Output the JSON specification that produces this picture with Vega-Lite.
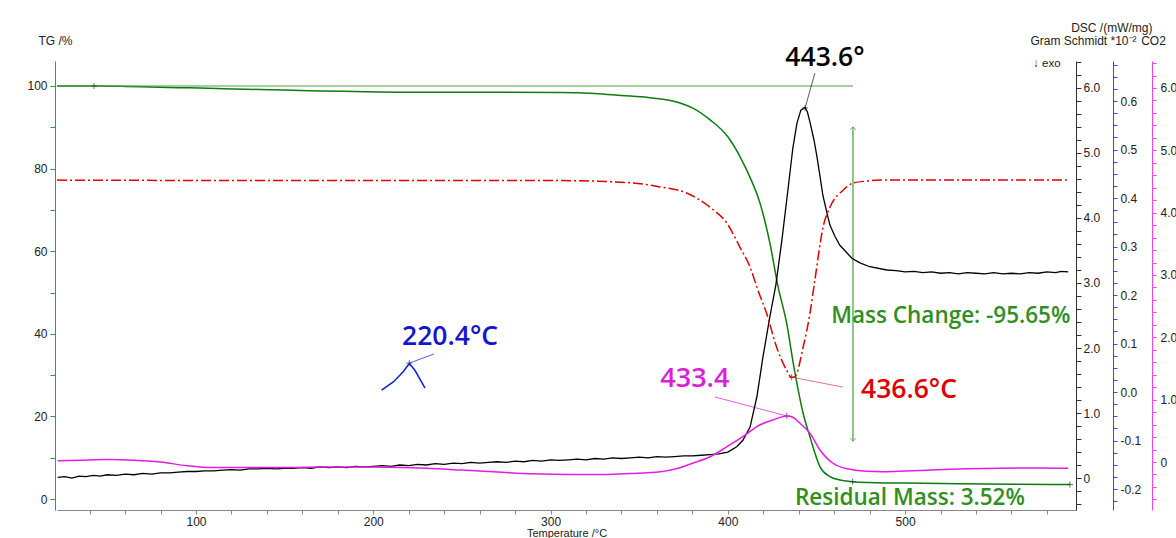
{
  "$schema": "https://vega.github.io/schema/vega-lite/v6.json",
  "width": 1019,
  "height": 449,
  "autosize": {"type": "none"},
  "padding": {"left": 57, "top": 61, "right": 100, "bottom": 28},
  "background": "white",
  "config": {
    "view": {"stroke": null},
    "font": "Liberation Sans",
    "axis": {"grid": false, "labelFont": "Liberation Sans", "labelFontSize": 12, "labelColor": "#222", "titleFont": "Liberation Sans", "titleFontSize": 12, "titleFontWeight": "normal", "titleColor": "#222"}
  },
  "datasets": {
    "tg": [{"T":21.6,"v":100},{"T":42.5,"v":100},{"T":60,"v":99.9},{"T":74,"v":99.76},{"T":90,"v":99.6},{"T":102,"v":99.5},{"T":120,"v":99.3},{"T":136,"v":99.15},{"T":155,"v":98.95},{"T":170,"v":98.8},{"T":190,"v":98.65},{"T":215,"v":98.5},{"T":260,"v":98.5},{"T":305,"v":98.45},{"T":325,"v":98.2},{"T":340,"v":97.7},{"T":355,"v":97.2},{"T":366,"v":96.6},{"T":373,"v":95.9},{"T":380,"v":94.7},{"T":390,"v":91.8},{"T":400,"v":87.7},{"T":407,"v":82.8},{"T":412.4,"v":78.0},{"T":418.1,"v":71.7},{"T":423.7,"v":62.0},{"T":428.3,"v":51.5},{"T":433.2,"v":42.5},{"T":436.9,"v":32.9},{"T":442.5,"v":20.7},{"T":446.3,"v":15.1},{"T":452,"v":7.8},{"T":457.6,"v":5.4},{"T":463.2,"v":4.6},{"T":470.4,"v":4.2},{"T":480,"v":4.0},{"T":500,"v":3.85},{"T":530,"v":3.7},{"T":560,"v":3.6},{"T":593,"v":3.5}],
    "dsc": [{"T":22,"v":0.01},{"T":26,"v":0.02},{"T":30,"v":0.0},{"T":34,"v":0.03},{"T":38,"v":0.02},{"T":42,"v":0.04},{"T":46,"v":0.03},{"T":50,"v":0.05},{"T":55,"v":0.04},{"T":60,"v":0.06},{"T":65,"v":0.05},{"T":70,"v":0.07},{"T":75,"v":0.06},{"T":80,"v":0.08},{"T":85,"v":0.08},{"T":90,"v":0.09},{"T":95,"v":0.1},{"T":100,"v":0.1},{"T":105,"v":0.11},{"T":110,"v":0.11},{"T":115,"v":0.12},{"T":120,"v":0.13},{"T":125,"v":0.12},{"T":130,"v":0.14},{"T":135,"v":0.14},{"T":140,"v":0.15},{"T":145,"v":0.14},{"T":150,"v":0.15},{"T":155,"v":0.15},{"T":160,"v":0.16},{"T":165,"v":0.15},{"T":170,"v":0.17},{"T":175,"v":0.16},{"T":180,"v":0.17},{"T":185,"v":0.16},{"T":190,"v":0.18},{"T":195,"v":0.17},{"T":200,"v":0.18},{"T":205,"v":0.19},{"T":210,"v":0.18},{"T":215,"v":0.2},{"T":220,"v":0.19},{"T":225,"v":0.21},{"T":230,"v":0.2},{"T":235,"v":0.22},{"T":240,"v":0.21},{"T":245,"v":0.23},{"T":250,"v":0.22},{"T":255,"v":0.24},{"T":260,"v":0.23},{"T":265,"v":0.24},{"T":270,"v":0.25},{"T":275,"v":0.24},{"T":280,"v":0.26},{"T":285,"v":0.25},{"T":290,"v":0.27},{"T":295,"v":0.26},{"T":300,"v":0.28},{"T":305,"v":0.27},{"T":310,"v":0.28},{"T":315,"v":0.29},{"T":320,"v":0.28},{"T":325,"v":0.3},{"T":330,"v":0.29},{"T":335,"v":0.31},{"T":340,"v":0.3},{"T":345,"v":0.31},{"T":350,"v":0.32},{"T":355,"v":0.31},{"T":360,"v":0.33},{"T":365,"v":0.32},{"T":370,"v":0.33},{"T":375,"v":0.34},{"T":380,"v":0.34},{"T":385,"v":0.35},{"T":390,"v":0.36},{"T":395,"v":0.37},{"T":400,"v":0.4},{"T":405,"v":0.48},{"T":408.5,"v":0.58},{"T":412.5,"v":0.78},{"T":416.4,"v":1.25},{"T":419.8,"v":1.86},{"T":423.7,"v":2.48},{"T":427.1,"v":2.97},{"T":430.5,"v":3.66},{"T":433.9,"v":4.43},{"T":436.7,"v":5.08},{"T":439.0,"v":5.46},{"T":441.2,"v":5.66},{"T":443.6,"v":5.7},{"T":444.9,"v":5.63},{"T":446.3,"v":5.48},{"T":448.6,"v":5.2},{"T":450.3,"v":4.94},{"T":451.9,"v":4.66},{"T":453.6,"v":4.35},{"T":455.9,"v":4.08},{"T":457.6,"v":3.89},{"T":460.4,"v":3.72},{"T":463.2,"v":3.58},{"T":466.6,"v":3.48},{"T":470.0,"v":3.38},{"T":474.5,"v":3.31},{"T":480.1,"v":3.25},{"T":489.7,"v":3.2},{"T":495,"v":3.19},{"T":500,"v":3.17},{"T":505,"v":3.18},{"T":510,"v":3.16},{"T":515,"v":3.17},{"T":520,"v":3.15},{"T":525,"v":3.16},{"T":530,"v":3.14},{"T":535,"v":3.16},{"T":540,"v":3.15},{"T":545,"v":3.14},{"T":550,"v":3.16},{"T":555,"v":3.14},{"T":560,"v":3.15},{"T":565,"v":3.14},{"T":570,"v":3.16},{"T":575,"v":3.15},{"T":580,"v":3.17},{"T":585,"v":3.16},{"T":588,"v":3.18},{"T":592,"v":3.17}],
    "gs": [{"T":21.6,"v":0.437},{"T":158.7,"v":0.436},{"T":305.3,"v":0.436},{"T":343,"v":0.432},{"T":361.7,"v":0.423},{"T":377,"v":0.41},{"T":389.9,"v":0.381},{"T":399.5,"v":0.348},{"T":406.8,"v":0.299},{"T":412.5,"v":0.258},{"T":417,"v":0.21},{"T":421.9,"v":0.162},{"T":427.5,"v":0.093},{"T":433.2,"v":0.045},{"T":436.0,"v":0.03},{"T":437.9,"v":0.032},{"T":442.5,"v":0.093},{"T":446.3,"v":0.162},{"T":449.1,"v":0.231},{"T":453.8,"v":0.341},{"T":457.6,"v":0.381},{"T":465,"v":0.416},{"T":470.6,"v":0.431},{"T":478.5,"v":0.435},{"T":485.8,"v":0.437},{"T":591.8,"v":0.437}],
    "blue": [{"T":204.7,"v":0.004},{"T":211.3,"v":0.021},{"T":216.9,"v":0.042},{"T":220.3,"v":0.059},{"T":223.5,"v":0.045},{"T":229.2,"v":0.008}],
    "co2": [{"T":22,"v":0.02},{"T":35,"v":0.03},{"T":50,"v":0.04},{"T":65,"v":0.03},{"T":80,"v":0.0},{"T":95,"v":-0.06},{"T":110,"v":-0.09},{"T":130,"v":-0.09},{"T":150,"v":-0.09},{"T":170,"v":-0.08},{"T":190,"v":-0.08},{"T":210,"v":-0.085},{"T":230,"v":-0.1},{"T":250,"v":-0.13},{"T":270,"v":-0.16},{"T":290,"v":-0.19},{"T":310,"v":-0.2},{"T":330,"v":-0.2},{"T":345,"v":-0.185},{"T":362,"v":-0.156},{"T":372,"v":-0.1},{"T":380,"v":-0.02},{"T":390,"v":0.085},{"T":399.5,"v":0.245},{"T":408.5,"v":0.406},{"T":418,"v":0.594},{"T":425.4,"v":0.674},{"T":430,"v":0.72},{"T":433.3,"v":0.738},{"T":436.7,"v":0.717},{"T":440.7,"v":0.621},{"T":446.3,"v":0.461},{"T":452,"v":0.193},{"T":459.3,"v":-0.02},{"T":468.9,"v":-0.117},{"T":478,"v":-0.15},{"T":487.5,"v":-0.156},{"T":500,"v":-0.145},{"T":515.7,"v":-0.128},{"T":535,"v":-0.11},{"T":553.5,"v":-0.1},{"T":575,"v":-0.095},{"T":592,"v":-0.1}],
    "marks": [{"T":42.5,"v":100},{"T":470.4,"v":4.2},{"T":593,"v":3.5},{"T":433.3,"v":20.1},{"T":436.0,"v":29.5},{"T":220.3,"v":32.9},{"T":443.6,"v":94.7}]
  },
  "resolve": {"scale": {"y": "independent"}, "axis": {"x": "independent", "y": "independent"}},
  "layer": [
    {
      "resolve": {"axis": {"x": "independent", "y": "independent"}},
      "layer": [
        {
          "data": {"name": "tg"},
          "mark": {"type": "line", "color": "#0a7d0a", "strokeWidth": 1.5, "interpolate": "monotone"},
          "encoding": {
            "x": {"field": "T", "type": "quantitative", "scale": {"domain": [21.6, 596.4], "nice": false, "zero": false},
              "axis": {"orient": "bottom", "values": [40,60,80,100,120,140,160,180,200,220,240,260,280,300,320,340,360,380,400,420,440,460,480,500,520,540,560,580], "labelExpr": "datum.value % 100 === 0 ? datum.label : ''", "tickSize": 4, "labelPadding": 2, "domainColor": "#888", "tickColor": "#888", "title": "Temperature /°C", "titleY": 23, "titleBaseline": "middle", "titleFontSize": 11}},
            "y": {"field": "v", "type": "quantitative", "scale": {"domain": [-2.66, 106.05], "nice": false, "zero": false},
              "axis": {"orient": "left", "offset": 2, "values": [0,10,20,30,40,50,60,70,80,90,100], "labelExpr": "datum.value % 20 === 0 ? datum.label : ''", "tickSize": 5, "labelPadding": 3, "domainColor": "#3a9a3a", "tickColor": "#3a9a3a", "title": "TG /%", "titleAngle": 0, "titleX": 0, "titleY": -21, "titleAlign": "center", "titleBaseline": "middle"}}
          }
        },
        {
          "data": {"values": [{"T": 21.6, "T2": 470.6, "v": 100}]},
          "mark": {"type": "rule", "color": "#4f9f4f", "strokeWidth": 1},
          "encoding": {
            "x": {"field": "T", "type": "quantitative", "scale": {"domain": [21.6, 596.4], "nice": false, "zero": false}, "axis": null},
            "x2": {"field": "T2"},
            "y": {"field": "v", "type": "quantitative", "axis": null}
          }
        },
        {
          "data": {"values": [{"T": 470.6, "v": 90.1, "v2": 14.0}]},
          "mark": {"type": "rule", "color": "#3f9f3f", "strokeWidth": 1.2},
          "encoding": {
            "x": {"field": "T", "type": "quantitative", "scale": {"domain": [21.6, 596.4], "nice": false, "zero": false}, "axis": null},
            "y": {"field": "v", "type": "quantitative", "axis": null},
            "y2": {"field": "v2"}
          }
        },
        {
          "data": {"values": [{"T": 470.6, "v": 90.1}]},
          "mark": {"type": "point", "shape": "M-1,1L0,0L1,1", "size": 40, "filled": false, "stroke": "#3f9f3f", "strokeWidth": 1},
          "encoding": {
            "x": {"field": "T", "type": "quantitative", "scale": {"domain": [21.6, 596.4], "nice": false, "zero": false}, "axis": null},
            "y": {"field": "v", "type": "quantitative", "axis": null}
          }
        },
        {
          "data": {"values": [{"T": 470.6, "v": 14.0}]},
          "mark": {"type": "point", "shape": "M-1,-1L0,0L1,-1", "size": 40, "filled": false, "stroke": "#3f9f3f", "strokeWidth": 1},
          "encoding": {
            "x": {"field": "T", "type": "quantitative", "scale": {"domain": [21.6, 596.4], "nice": false, "zero": false}, "axis": null},
            "y": {"field": "v", "type": "quantitative", "axis": null}
          }
        },
        {
          "data": {"values": [{"T": 443.6, "v": 94.7, "T2": 449.1, "v2": 103.1}]},
          "mark": {"type": "rule", "color": "#333", "strokeWidth": 0.8},
          "encoding": {
            "x": {"field": "T", "type": "quantitative", "scale": {"domain": [21.6, 596.4], "nice": false, "zero": false}, "axis": null},
            "x2": {"field": "T2"},
            "y": {"field": "v", "type": "quantitative", "axis": null},
            "y2": {"field": "v2"}
          }
        },
        {
          "data": {"values": [{"T": 220.3, "v": 32.9, "T2": 234.2, "v2": 35.1}]},
          "mark": {"type": "rule", "color": "#3333dd", "strokeWidth": 0.8},
          "encoding": {
            "x": {"field": "T", "type": "quantitative", "scale": {"domain": [21.6, 596.4], "nice": false, "zero": false}, "axis": null},
            "x2": {"field": "T2"},
            "y": {"field": "v", "type": "quantitative", "axis": null},
            "y2": {"field": "v2"}
          }
        },
        {
          "data": {"values": [{"T": 433.3, "v": 20.1, "T2": 392.7, "v2": 24.7}]},
          "mark": {"type": "rule", "color": "#dd33dd", "strokeWidth": 0.8},
          "encoding": {
            "x": {"field": "T", "type": "quantitative", "scale": {"domain": [21.6, 596.4], "nice": false, "zero": false}, "axis": null},
            "x2": {"field": "T2"},
            "y": {"field": "v", "type": "quantitative", "axis": null},
            "y2": {"field": "v2"}
          }
        },
        {
          "data": {"values": [{"T": 436.0, "v": 29.5, "T2": 464.9, "v2": 27.1}]},
          "mark": {"type": "rule", "color": "#dd5555", "strokeWidth": 0.8},
          "encoding": {
            "x": {"field": "T", "type": "quantitative", "scale": {"domain": [21.6, 596.4], "nice": false, "zero": false}, "axis": null},
            "x2": {"field": "T2"},
            "y": {"field": "v", "type": "quantitative", "axis": null},
            "y2": {"field": "v2"}
          }
        },
        {
          "data": {"name": "marks"},
          "mark": {"type": "point", "shape": "M-1,0L1,0M0,-1L0,1", "size": 36, "filled": false, "stroke": "#333", "strokeWidth": 1},
          "encoding": {
            "x": {"field": "T", "type": "quantitative", "scale": {"domain": [21.6, 596.4], "nice": false, "zero": false}, "axis": null},
            "y": {"field": "v", "type": "quantitative", "axis": null}
          }
        },
        {
          "data": {"values": [{"label": "443.6°", "T": 454.8, "v": 106.8}]},
          "mark": {"type": "text", "font": "Open Sans", "fontSize": 26.5, "fontWeight": 600, "color": "#000", "align": "center", "baseline": "middle"},
          "encoding": {
            "x": {"field": "T", "type": "quantitative", "scale": {"domain": [21.6, 596.4], "nice": false, "zero": false}, "axis": null},
            "y": {"field": "v", "type": "quantitative", "axis": null},
            "text": {"field": "label"}
          }
        },
        {
          "data": {"values": [{"label": "220.4°C", "T": 243.3, "v": 39.2}]},
          "mark": {"type": "text", "font": "Open Sans", "fontSize": 26.5, "fontWeight": 600, "color": "#1414d2", "align": "center", "baseline": "middle"},
          "encoding": {
            "x": {"field": "T", "type": "quantitative", "scale": {"domain": [21.6, 596.4], "nice": false, "zero": false}, "axis": null},
            "y": {"field": "v", "type": "quantitative", "axis": null},
            "text": {"field": "label"}
          }
        },
        {
          "data": {"values": [{"label": "433.4", "T": 381.4, "v": 29.1}]},
          "mark": {"type": "text", "font": "Open Sans", "fontSize": 27, "fontWeight": 600, "color": "#dc1edc", "align": "center", "baseline": "middle"},
          "encoding": {
            "x": {"field": "T", "type": "quantitative", "scale": {"domain": [21.6, 596.4], "nice": false, "zero": false}, "axis": null},
            "y": {"field": "v", "type": "quantitative", "axis": null},
            "text": {"field": "label"}
          }
        },
        {
          "data": {"values": [{"label": "436.6°C", "T": 502.2, "v": 26.4}]},
          "mark": {"type": "text", "font": "Open Sans", "fontSize": 26.5, "fontWeight": 600, "color": "#e00000", "align": "center", "baseline": "middle"},
          "encoding": {
            "x": {"field": "T", "type": "quantitative", "scale": {"domain": [21.6, 596.4], "nice": false, "zero": false}, "axis": null},
            "y": {"field": "v", "type": "quantitative", "axis": null},
            "text": {"field": "label"}
          }
        },
        {
          "data": {"values": [{"label": "Mass Change: -95.65%", "T": 525.8, "v": 44.3}, {"label": "Residual Mass: 3.52%", "T": 502.7, "v": 0.24}]},
          "mark": {"type": "text", "font": "Open Sans", "fontSize": 22.5, "fontWeight": 600, "color": "#2f8f1f", "align": "center", "baseline": "middle"},
          "encoding": {
            "x": {"field": "T", "type": "quantitative", "scale": {"domain": [21.6, 596.4], "nice": false, "zero": false}, "axis": null},
            "y": {"field": "v", "type": "quantitative", "axis": null},
            "text": {"field": "label"}
          }
        },
        {
          "data": {"values": [{"label": "↓ exo", "T": 580, "v": 105.3}]},
          "mark": {"type": "text", "font": "Liberation Sans", "fontSize": 11.5, "color": "#222", "align": "center", "baseline": "middle"},
          "encoding": {
            "x": {"field": "T", "type": "quantitative", "scale": {"domain": [21.6, 596.4], "nice": false, "zero": false}, "axis": null},
            "y": {"field": "v", "type": "quantitative", "axis": null},
            "text": {"field": "label"}
          }
        }
      ]
    },
    {
      "data": {"name": "dsc"},
      "mark": {"type": "line", "color": "#000", "strokeWidth": 1.3},
      "encoding": {
        "x": {"field": "T", "type": "quantitative", "scale": {"domain": [21.6, 596.4], "nice": false, "zero": false}, "axis": null},
        "y": {"field": "v", "type": "quantitative", "scale": {"domain": [-0.492, 6.415], "nice": false, "zero": false},
          "axis": {"orient": "right", "offset": 0, "values": [-0.4,-0.2,0,0.2,0.4,0.6,0.8,1,1.2,1.4,1.6,1.8,2,2.2,2.4,2.6,2.8,3,3.2,3.4,3.6,3.8,4,4.2,4.4,4.6,4.8,5,5.2,5.4,5.6,5.8,6,6.2,6.4], "labelExpr": "abs(datum.value - round(datum.value)) < 0.001 ? (datum.value == 0 ? '0' : format(datum.value, '.1f')) : ''", "tickSize": 5, "labelPadding": 2, "domainColor": "#333", "tickColor": "#333", "title": "DSC /(mW/mg)", "titleAngle": 0, "titleX": 76, "titleY": -34, "titleAlign": "right", "titleBaseline": "middle"}}
      }
    },
    {
      "resolve": {"axis": {"x": "independent", "y": "independent"}},
      "layer": [
        {
          "data": {"name": "gs"},
          "mark": {"type": "line", "color": "#e00000", "strokeWidth": 1.5, "strokeDash": [10, 3, 2, 3], "interpolate": "monotone"},
          "encoding": {
            "x": {"field": "T", "type": "quantitative", "scale": {"domain": [21.6, 596.4], "nice": false, "zero": false}, "axis": null},
            "y": {"field": "v", "type": "quantitative", "scale": {"domain": [-0.243, 0.6825], "nice": false, "zero": false},
              "axis": {"orient": "right", "offset": 37, "values": [-0.225,-0.2,-0.175,-0.15,-0.125,-0.1,-0.075,-0.05,-0.025,0,0.025,0.05,0.075,0.1,0.125,0.15,0.175,0.2,0.225,0.25,0.275,0.3,0.325,0.35,0.375,0.4,0.425,0.45,0.475,0.5,0.525,0.55,0.575,0.6,0.625,0.65,0.675], "labelExpr": "abs(datum.value*10 - round(datum.value*10)) < 0.001 ? replace(format(datum.value, '.1f'), '−', '-') : ''", "tickSize": 4, "labelPadding": 3, "domainColor": "#4040ff", "tickColor": "#4040ff", "title": "Gram Schmidt *10⁻²", "titleAngle": 0, "titleX": 23, "titleY": -21, "titleAlign": "right", "titleBaseline": "middle"}}
          }
        },
        {
          "data": {"name": "blue"},
          "mark": {"type": "line", "color": "#1020e0", "strokeWidth": 1.5},
          "encoding": {
            "x": {"field": "T", "type": "quantitative", "scale": {"domain": [21.6, 596.4], "nice": false, "zero": false}, "axis": null},
            "y": {"field": "v", "type": "quantitative", "axis": null}
          }
        }
      ]
    },
    {
      "data": {"name": "co2"},
      "mark": {"type": "line", "color": "#e21ee2", "strokeWidth": 1.5, "interpolate": "monotone"},
      "encoding": {
        "x": {"field": "T", "type": "quantitative", "scale": {"domain": [21.6, 596.4], "nice": false, "zero": false}, "axis": null},
        "y": {"field": "v", "type": "quantitative", "scale": {"domain": [-0.77, 6.433], "nice": false, "zero": false},
          "axis": {"orient": "right", "offset": 76, "values": [-0.6,-0.4,-0.2,0,0.2,0.4,0.6,0.8,1,1.2,1.4,1.6,1.8,2,2.2,2.4,2.6,2.8,3,3.2,3.4,3.6,3.8,4,4.2,4.4,4.6,4.8,5,5.2,5.4,5.6,5.8,6,6.2,6.4], "labelExpr": "abs(datum.value - round(datum.value)) < 0.001 ? (datum.value == 0 ? '0' : format(datum.value, '.1f')) : ''", "tickSize": 4, "labelPadding": 4, "domainColor": "#ee44ee", "tickColor": "#ee44ee", "title": "CO2", "titleAngle": 0, "titleX": 1, "titleY": -21, "titleAlign": "center", "titleBaseline": "middle"}}
      }
    }
  ]
}
